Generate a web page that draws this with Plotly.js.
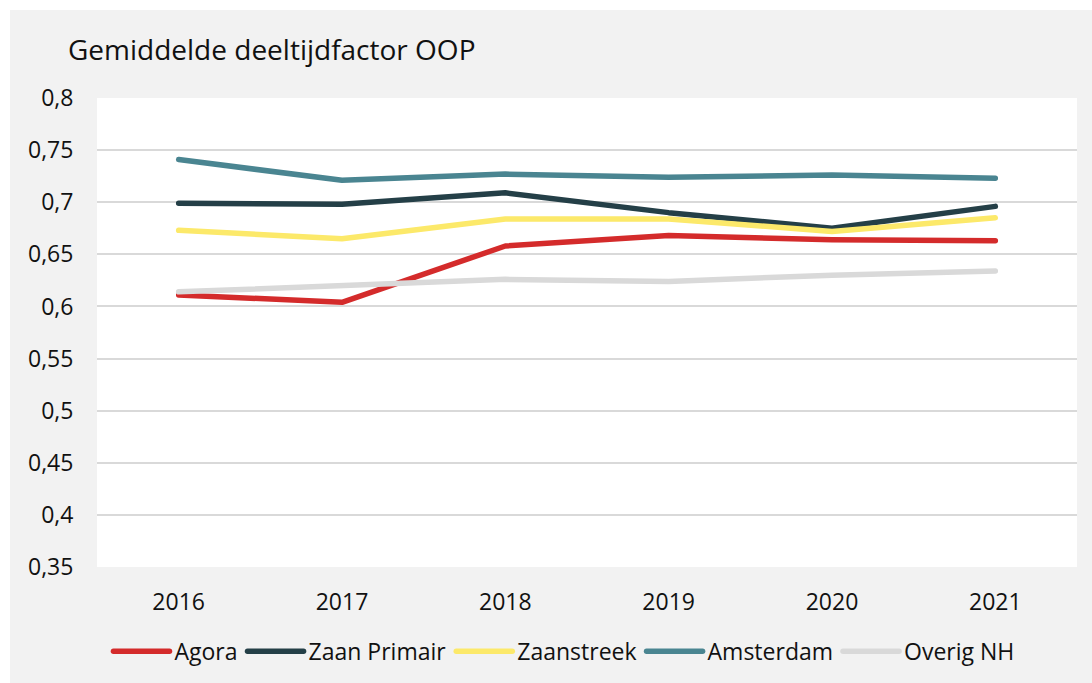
<!DOCTYPE html>
<html>
<head>
<meta charset="utf-8">
<script src="https://cdn.plot.ly/plotly-3.0.1.min.js"></script>
<style>
  html, body { margin: 0; padding: 0; background: #ffffff; }
  #chart { position: absolute; left: 10px; top: 10px; width: 1082px; height: 673px; }
  .js-line { stroke-linecap: round; stroke-linejoin: round; }
  .legendlines path { stroke-linecap: round; }
</style>
</head>
<body>
<div id="chart"></div>
<script>
const years = ['2016', '2017', '2018', '2019', '2020', '2021'];
const agora = [0.611, 0.604, 0.658, 0.668, 0.664, 0.663];
const zaanPrimair = [0.699, 0.698, 0.709, 0.690, 0.675, 0.696];
const zaanstreek = [0.673, 0.665, 0.684, 0.684, 0.672, 0.685];
const amsterdam = [0.741, 0.721, 0.727, 0.724, 0.726, 0.723];
const overigNH = [0.614, 0.620, 0.626, 0.624, 0.630, 0.634];
const yTickVals = [0.35, 0.4, 0.45, 0.5, 0.55, 0.6, 0.65, 0.7, 0.75, 0.8];
const yTickText = ['0,35', '0,4', '0,45', '0,5', '0,55', '0,6', '0,65', '0,7', '0,75', '0,8'];

const seriesNames = ['Agora', 'Zaan Primair', 'Zaanstreek', 'Amsterdam', 'Overig NH'];
const seriesData = [agora, zaanPrimair, zaanstreek, amsterdam, overigNH];
const seriesColors = ['#d42b2b', '#243f47', '#fce96a', '#4a8591', '#d9d9d9'];

const font = '"Open Sans", Lato, sans-serif';

const traces = seriesNames.map((n, i) => ({
  type: 'scatter',
  mode: 'lines',
  name: n,
  x: years,
  y: seriesData[i],
  line: { color: seriesColors[i], width: 5.5 },
  hoverinfo: 'x+y+name'
}));

const layout = {
  width: 1082,
  height: 673,
  paper_bgcolor: '#f2f2f2',
  plot_bgcolor: '#ffffff',
  margin: { l: 87, r: 15, t: 88, b: 115 },
  font: { family: font, color: '#111111', size: 23 },
  title: {
    text: 'Gemiddelde deeltijdfactor OOP',
    font: { family: font, size: 28, color: '#111111' },
    x: 58 / 1082,
    xanchor: 'left',
    xref: 'container',
    y: 1 - 40 / 673,
    yanchor: 'middle',
    yref: 'container'
  },
  xaxis: {
    type: 'category',
    range: [-0.5, 5.5],
    showgrid: false,
    zeroline: false,
    showline: false,
    ticks: 'outside',
    ticklen: 14,
    tickcolor: 'rgba(0,0,0,0)',
    tickfont: { family: font, size: 23, color: '#111111' },
    fixedrange: true
  },
  yaxis: {
    range: [0.35, 0.8],
    tickvals: yTickVals,
    ticktext: yTickText,
    showgrid: true,
    gridcolor: '#d9d9d9',
    gridwidth: 2,
    zeroline: false,
    showline: false,
    ticks: 'outside',
    ticklen: 18,
    tickcolor: 'rgba(0,0,0,0)',
    tickfont: { family: font, size: 23, color: '#111111' },
    fixedrange: true
  },
  showlegend: true,
  legend: {
    orientation: 'h',
    x: 0.4765,
    xanchor: 'center',
    y: -0.177,
    yanchor: 'middle',
    font: { family: font, size: 23, color: '#111111' },
    bgcolor: 'rgba(0,0,0,0)',
    itemwidth: 56,
    traceorder: 'normal'
  },
  hovermode: 'closest'
};

Plotly.newPlot('chart', traces, layout, { displayModeBar: false });
</script>
</body>
</html>
